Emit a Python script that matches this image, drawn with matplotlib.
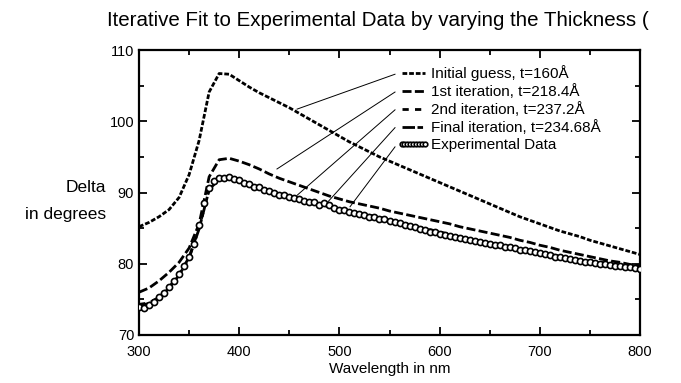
import numpy as np
import matplotlib
matplotlib.use("Agg")
import matplotlib.pyplot as plt
from matplotlib.ticker import MultipleLocator

plt.rcParams['font.family'] = ['Liberation Sans', 'DejaVu Sans']
plt.rcParams['lines.scale_dashes'] = False

# ---------------- data ----------------
wl_fit = list(range(300, 801, 10))

initial_guess = [85.2, 85.8, 86.6, 87.6, 89.3, 92.5, 97.3, 104.1, 106.7, 106.6,
                 105.7, 104.8, 104.0, 103.3, 102.6, 101.9, 101.1, 100.3, 99.5, 98.7,
                 97.9, 97.1, 96.4, 95.7, 95.0, 94.4, 93.8, 93.2, 92.6, 92.0,
                 91.4, 90.8, 90.2, 89.6, 89.0, 88.4, 87.8, 87.2, 86.6, 86.1,
                 85.6, 85.1, 84.6, 84.2, 83.8, 83.3, 82.9, 82.5, 82.1, 81.7, 81.3]

iter_1 = [76.0, 76.6, 77.6, 78.8, 80.2, 82.2, 85.6, 92.2, 94.6, 94.8,
          94.4, 93.9, 93.3, 92.6, 92.0, 91.5, 91.0, 90.5, 90.0, 89.5,
          89.1, 88.7, 88.4, 88.1, 87.8, 87.4, 87.1, 86.8, 86.5, 86.2,
          85.9, 85.6, 85.2, 84.9, 84.6, 84.3, 84.0, 83.7, 83.3, 83.0,
          82.6, 82.3, 81.9, 81.6, 81.3, 81.0, 80.7, 80.4, 80.2, 79.9, 79.7]

iter_2 = [74.3, 74.5, 75.3, 76.7, 78.5, 80.9, 85.0, 90.5, 92.0, 92.2,
          91.8, 91.2, 90.7, 90.2, 89.8, 89.4, 89.0, 88.7, 88.4, 88.1,
          87.7, 87.4, 87.1, 86.8, 86.5, 86.2, 85.8, 85.5, 85.1, 84.8,
          84.5, 84.1, 83.8, 83.5, 83.2, 82.9, 82.6, 82.4, 82.1, 81.8,
          81.6, 81.3, 81.1, 80.8, 80.6, 80.4, 80.2, 80.0, 79.8, 79.6, 79.4]

iter_final = [74.2, 74.4, 75.2, 76.6, 78.4, 80.8, 84.9, 90.4, 91.9, 92.1,
              91.7, 91.1, 90.6, 90.1, 89.7, 89.3, 88.9, 88.6, 88.3, 88.0,
              87.6, 87.3, 87.0, 86.7, 86.4, 86.1, 85.7, 85.4, 85.0, 84.7,
              84.4, 84.0, 83.7, 83.4, 83.1, 82.8, 82.5, 82.3, 82.0, 81.7,
              81.5, 81.2, 81.0, 80.7, 80.5, 80.3, 80.1, 79.9, 79.7, 79.5, 79.3]

wl_exp = list(range(300, 801, 5))
experimental = [74.0, 73.8, 74.2, 74.6, 75.3, 75.9, 76.8, 77.6, 78.6, 79.7,
                81.0, 82.8, 85.4, 88.5, 90.6, 91.6, 92.0, 92.1, 92.2, 91.9,
                91.8, 91.3, 91.2, 90.8, 90.8, 90.4, 90.2, 90.0, 89.7, 89.6,
                89.4, 89.2, 89.1, 88.8, 88.7, 88.6, 88.3, 88.5, 88.2, 87.8,
                87.6, 87.6, 87.3, 87.1, 87.0, 86.9, 86.6, 86.6, 86.3, 86.3,
                86.0, 85.9, 85.7, 85.5, 85.3, 85.1, 84.9, 84.8, 84.5, 84.4,
                84.2, 84.0, 83.9, 83.8, 83.6, 83.5, 83.3, 83.2, 83.0, 82.9,
                82.8, 82.6, 82.6, 82.4, 82.4, 82.2, 82.0, 81.9, 81.8, 81.6,
                81.5, 81.4, 81.2, 81.0, 81.0, 80.8, 80.7, 80.5, 80.4, 80.3,
                80.2, 80.1, 80.0, 79.9, 79.8, 79.7, 79.7, 79.6, 79.5, 79.4, 79.2]

labels = ["Initial guess, t=160Å", "1st iteration, t=218.4Å", "2nd iteration, t=237.2Å",
          "Final iteration, t=234.68Å", "Experimental Data"]

# leader-line targets (wavelength, delta) for each legend entry
leader_targets = [(457.7, 101.7), (437.7, 93.3), (457.7, 89.6), (488.6, 88.7), (510.6, 88.0)]

# ---------------- figure ----------------
fig = plt.figure(figsize=(6.81, 3.83), dpi=100)
ax = fig.add_axes([139/681, 1-335/383, 501/681, 285/383])

lw = 2.0
h1, = ax.plot(wl_fit, initial_guess, color='black', lw=lw, dashes=(3.4, 1.4), label=labels[0])
h2, = ax.plot(wl_fit, iter_1, color='black', lw=lw, dashes=(6.5, 2.4), label=labels[1])
h3, = ax.plot(wl_fit, iter_2, color='black', lw=lw, dashes=(4.5, 4.5), label=labels[2])
h4, = ax.plot(wl_fit, iter_final, color='black', lw=lw, dashes=(9, 1.8, 4, 1.8), label=labels[3])
h5, = ax.plot(wl_exp, experimental, linestyle='none', marker='o', markersize=4.4,
              markerfacecolor='white', markeredgecolor='black', markeredgewidth=1.2,
              label=labels[4], zorder=3)

ax.set_xlim(300, 800)
ax.set_ylim(70, 110)
ax.xaxis.set_major_locator(MultipleLocator(100))
ax.xaxis.set_minor_locator(MultipleLocator(50))
ax.yaxis.set_major_locator(MultipleLocator(10))
ax.yaxis.set_minor_locator(MultipleLocator(5))
ax.tick_params(which='both', direction='in', top=True, right=True, width=1.3, labelsize=10.5)
ax.tick_params(which='major', length=6)
ax.tick_params(which='minor', length=3.5)
ax.tick_params(axis='x', which='major', pad=7)
ax.tick_params(axis='y', which='major', pad=3.5)
for s in ax.spines.values():
    s.set_linewidth(1.6)

ax.set_xlabel("Wavelength in nm", fontsize=11, labelpad=2)

leg = ax.legend(handles=[h1, h2, h3, h4, h5], loc='upper left',
                bbox_to_anchor=((397-139)/501, (335-65)/285), frameon=False,
                fontsize=11, handlelength=2.1, handletextpad=0.12,
                labelspacing=0.2, borderpad=0, borderaxespad=0,
                numpoints=9, markerscale=0.75)

row_y = [106.6, 104.1, 101.6, 99.1, 96.4]
x0 = 300 + (395-139)*500/501
for ry, (tx, ty) in zip(row_y, leader_targets):
    ax.plot([x0, tx], [ry, ty], color='black', lw=0.7, zorder=4)

fig.text(107/681, 1-20/383, "Iterative Fit to Experimental Data by varying the Thickness (",
         fontsize=14.8, ha='left', va='center')
fig.text(106/681, 1-187/383, "Delta", fontsize=12.5, ha='right', va='center')
fig.text(106/681, 1-215/383, "in degrees", fontsize=12.5, ha='right', va='center')

fig.savefig("out.png", dpi=100)
